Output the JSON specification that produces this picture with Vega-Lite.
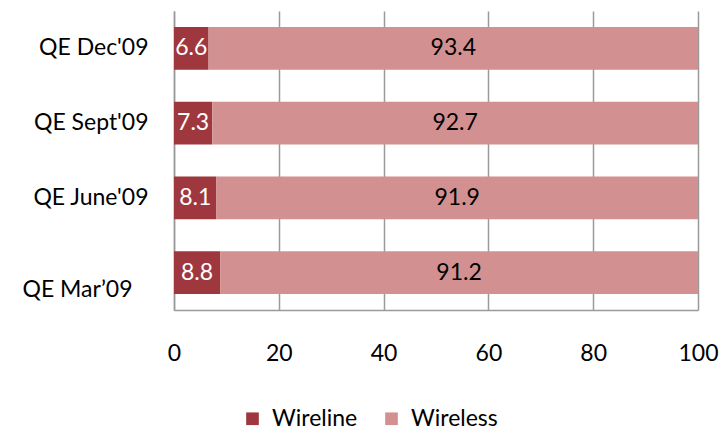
{
  "$schema": "https://vega.github.io/schema/vega-lite/v6.json",
  "width": 524,
  "height": 299,
  "autosize": "none",
  "padding": {"left": 174, "top": 11, "right": 22, "bottom": 121},
  "background": "white",
  "config": {
    "view": {"stroke": null},
    "font": "Lato"
  },
  "data": {
    "values": [
      {"quarter": "QE Dec'09", "type": "Wireline", "value": 6.6},
      {"quarter": "QE Dec'09", "type": "Wireless", "value": 93.4},
      {"quarter": "QE Sept'09", "type": "Wireline", "value": 7.3},
      {"quarter": "QE Sept'09", "type": "Wireless", "value": 92.7},
      {"quarter": "QE June'09", "type": "Wireline", "value": 8.1},
      {"quarter": "QE June'09", "type": "Wireless", "value": 91.9},
      {"quarter": "QE Mar’09", "type": "Wireline", "value": 8.8},
      {"quarter": "QE Mar’09", "type": "Wireless", "value": 91.2}
    ]
  },
  "transform": [
    {"stack": "value", "groupby": ["quarter"], "sort": [{"field": "type", "order": "descending"}], "as": ["v0", "v1"]},
    {"calculate": "(datum.v0 + datum.v1) / 2", "as": "mid"}
  ],
  "encoding": {
    "y": {
      "field": "quarter",
      "type": "nominal",
      "sort": ["QE Dec'09", "QE Sept'09", "QE June'09", "QE Mar’09"],
      "scale": {"paddingInner": 0.43, "paddingOuter": 0.215},
      "axis": {
        "title": null,
        "ticks": false,
        "domainColor": "#9a9a9a",
        "domainWidth": 1.5,
        "labelFontSize": 23,
        "labelColor": "#000000",
        "labelPadding": {"condition": {"test": "datum.value === 'QE Mar’09'", "value": 42}, "value": 26},
        "labelOffset": {"condition": {"test": "datum.value === 'QE Mar’09'", "value": 17}, "value": 0}
      }
    }
  },
  "layer": [
    {
      "mark": {"type": "bar"},
      "encoding": {
        "x": {
          "field": "v0",
          "type": "quantitative",
          "scale": {"domain": [0, 100], "nice": false},
          "axis": {
            "title": null,
            "values": [0, 20, 40, 60, 80, 100],
            "ticks": false,
            "grid": true,
            "gridColor": "#9a9a9a",
            "gridWidth": 1.5,
            "domainColor": "#9a9a9a",
            "domainWidth": 1.5,
            "labelFontSize": 23,
            "labelColor": "#000000",
            "labelPadding": 32,
            "labelFlush": false
          }
        },
        "x2": {"field": "v1"},
        "color": {
          "field": "type",
          "type": "nominal",
          "scale": {"domain": ["Wireline", "Wireless"], "range": ["#9f383e", "#d29190"]},
          "legend": {
            "title": null,
            "orient": "none",
            "direction": "horizontal",
            "legendX": 67,
            "legendY": 396,
            "symbolType": "square",
            "symbolSize": 160,
            "symbolOpacity": 1,
            "labelFontSize": 23,
            "labelColor": "#000000",
            "columnPadding": 22,
            "labelOffset": 8
          }
        }
      }
    },
    {
      "mark": {"type": "text", "fontSize": 23, "align": "center", "baseline": "middle"},
      "encoding": {
        "x": {"field": "mid", "type": "quantitative"},
        "text": {"field": "value", "type": "quantitative", "format": ".1f"},
        "color": {
          "condition": {"test": "datum.type === 'Wireline'", "value": "white"},
          "value": "black"
        }
      }
    }
  ]
}
